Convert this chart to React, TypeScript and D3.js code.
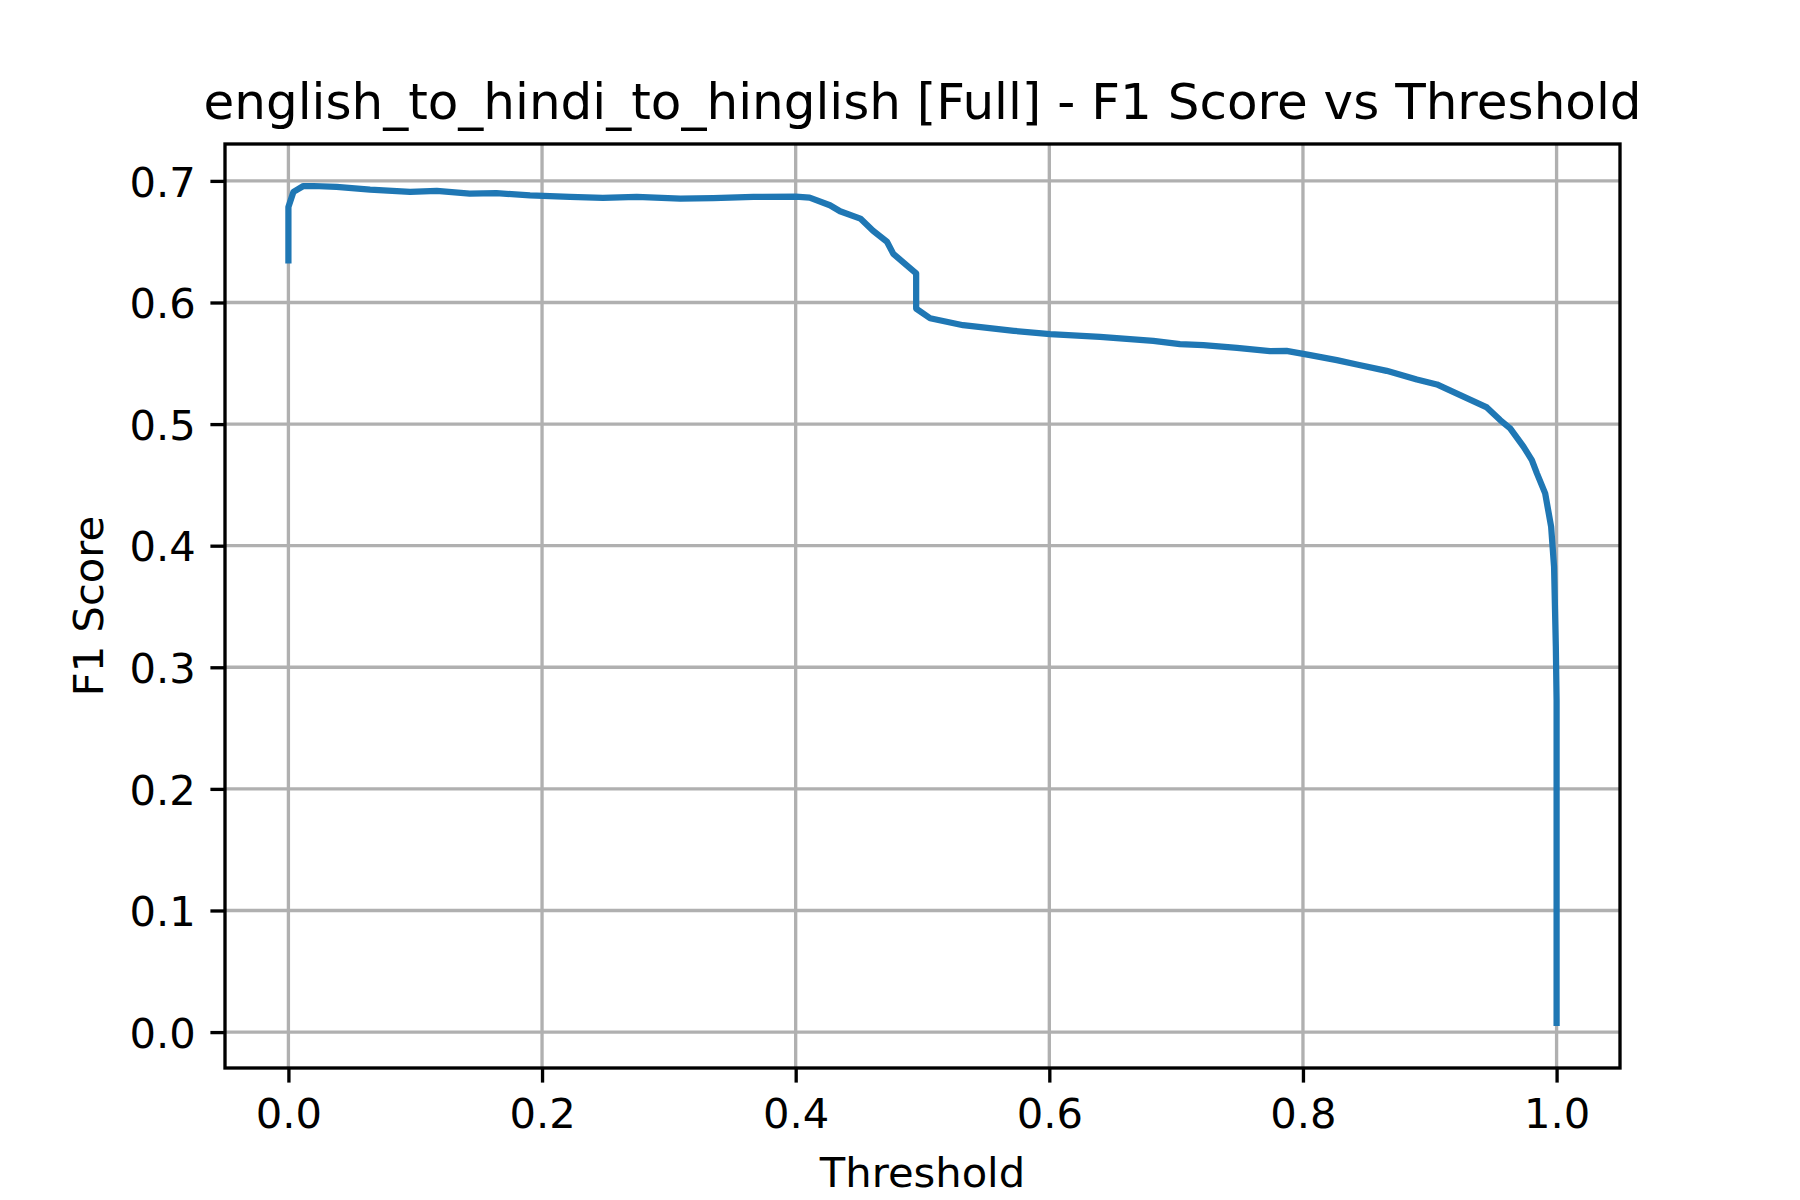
import { useEffect, useRef } from "react";
import * as d3 from "d3";

// values
const thresholds: number[] = [
  0, 0, 0.004, 0.0118, 0.0197, 0.038, 0.0644, 0.096, 0.117, 0.143, 0.164,
  0.1905, 0.222, 0.248, 0.2747, 0.309, 0.335, 0.3667, 0.4, 0.411, 0.427, 0.435,
  0.451, 0.461, 0.472, 0.477, 0.4876, 0.495, 0.495, 0.506, 0.532, 0.572, 0.6006,
  0.64, 0.682, 0.703, 0.7215, 0.748, 0.774, 0.787, 0.8057, 0.8267, 0.8425,
  0.866, 0.8898, 0.9056, 0.924, 0.945, 0.9555, 0.9634, 0.974, 0.9805, 0.9845,
  0.991, 0.9957, 0.998, 0.9994, 1.0, 1.0,
];
const f1Scores: number[] = [
  0.632, 0.6786, 0.691, 0.6958, 0.6958, 0.695, 0.6928, 0.6909, 0.6917, 0.6896,
  0.69, 0.688, 0.6868, 0.686, 0.6868, 0.6855, 0.6858, 0.6868, 0.687, 0.6863,
  0.68, 0.675, 0.669, 0.659, 0.65, 0.64, 0.6306, 0.624, 0.595, 0.587, 0.5813,
  0.5767, 0.574, 0.5717, 0.5685, 0.5657, 0.5649, 0.5627, 0.56, 0.5602, 0.5567,
  0.5526, 0.549, 0.5438, 0.5367, 0.5326, 0.5238, 0.5137, 0.5033, 0.4965,
  0.4813, 0.4704, 0.4595, 0.443, 0.4156, 0.3827, 0.317, 0.273, 0.005,
];
const xTicks = [0, 0.2, 0.4, 0.6, 0.8, 1.0];
const yTicks = [0, 0.1, 0.2, 0.3, 0.4, 0.5, 0.6, 0.7];

const TITLE = "english_to_hindi_to_hinglish [Full] - F1 Score vs Threshold";
const FONT = "'DejaVu Sans', sans-serif";
const W = 1800;
const H = 1200;

export default function App() {
  const svgRef = useRef<SVGSVGElement>(null);

  useEffect(() => {
    if (!svgRef.current) return;
    const svg = d3.select(svgRef.current);
    svg.selectAll("*").remove();

    const margin = { left: 225, right: 180, top: 144, bottom: 132 };
    const innerW = W - margin.left - margin.right;
    const innerH = H - margin.top - margin.bottom;

    const xMin = d3.min(thresholds)!;
    const xMax = d3.max(thresholds)!;
    const yMin = d3.min(f1Scores)!;
    const yMax = d3.max(f1Scores)!;
    const xPad = (xMax - xMin) * 0.05;
    const yPad = (yMax - yMin) * 0.05;

    const x = d3
      .scaleLinear()
      .domain([xMin - xPad, xMax + xPad])
      .range([0, innerW]);
    const y = d3
      .scaleLinear()
      .domain([yMin - yPad, yMax + yPad])
      .range([innerH, 0]);

    svg.append("rect").attr("width", W).attr("height", H).attr("fill", "#fff");

    const g = svg
      .append("g")
      .attr("transform", `translate(${margin.left},${margin.top})`);

    // grid
    g.append("g")
      .selectAll("line")
      .data(xTicks)
      .enter()
      .append("line")
      .attr("x1", (d) => x(d))
      .attr("x2", (d) => x(d))
      .attr("y1", 0)
      .attr("y2", innerH)
      .attr("stroke", "#b0b0b0")
      .attr("stroke-width", 3.33);
    g.append("g")
      .selectAll("line")
      .data(yTicks)
      .enter()
      .append("line")
      .attr("x1", 0)
      .attr("x2", innerW)
      .attr("y1", (d) => y(d))
      .attr("y2", (d) => y(d))
      .attr("stroke", "#b0b0b0")
      .attr("stroke-width", 3.33);

    // curve
    const points = thresholds.map((t, i) => [t, f1Scores[i]] as [number, number]);
    const line = d3
      .line<[number, number]>()
      .x((d) => x(d[0]))
      .y((d) => y(d[1]));
    g.append("path")
      .datum(points)
      .attr("d", line)
      .attr("fill", "none")
      .attr("stroke", "#1f77b4")
      .attr("stroke-width", 6.25)
      .attr("stroke-linejoin", "round")
      .attr("stroke-linecap", "butt");

    // axes
    const xAxis = g
      .append("g")
      .attr("transform", `translate(0,${innerH})`)
      .call(
        d3
          .axisBottom(x)
          .tickValues(xTicks)
          .tickSize(14.6)
          .tickPadding(14.6)
          .tickFormat((d) => d3.format(".1f")(Number(d))),
      );
    xAxis.select(".domain").remove();
    xAxis.selectAll(".tick line").attr("stroke", "#000").attr("stroke-width", 3.33);
    xAxis
      .selectAll(".tick text")
      .attr("fill", "#000")
      .attr("font-size", "41.67px")
      .attr("font-family", FONT)
      .attr("dy", null)
      .attr("y", 14.6 + 14.6 + 31.2);

    const yAxis = g.append("g").call(
      d3
        .axisLeft(y)
        .tickValues(yTicks)
        .tickSize(14.6)
        .tickPadding(14.6)
        .tickFormat((d) => d3.format(".1f")(Number(d))),
    );
    yAxis.select(".domain").remove();
    yAxis.selectAll(".tick line").attr("stroke", "#000").attr("stroke-width", 3.33);
    yAxis
      .selectAll(".tick text")
      .attr("fill", "#000")
      .attr("font-size", "41.67px")
      .attr("font-family", FONT)
      .attr("dy", null)
      .attr("y", 15.2);

    // spines
    g.append("rect")
      .attr("width", innerW)
      .attr("height", innerH)
      .attr("fill", "none")
      .attr("stroke", "#000")
      .attr("stroke-width", 3.33)
      .attr("stroke-linejoin", "miter");

    // labels
    svg
      .append("text")
      .attr("x", margin.left + innerW / 2)
      .attr("y", 119)
      .attr("text-anchor", "middle")
      .attr("font-size", "50px")
      .attr("font-family", FONT)
      .attr("fill", "#000")
      .text(TITLE);

    svg
      .append("text")
      .attr("x", margin.left + innerW / 2)
      .attr("y", 1187)
      .attr("text-anchor", "middle")
      .attr("font-size", "41.67px")
      .attr("font-family", FONT)
      .attr("fill", "#000")
      .text("Threshold");

    svg
      .append("text")
      .attr("transform", `translate(103,${margin.top + innerH / 2}) rotate(-90)`)
      .attr("text-anchor", "middle")
      .attr("font-size", "41.67px")
      .attr("font-family", FONT)
      .attr("fill", "#000")
      .text("F1 Score");
  }, []);

  return (
    <svg
      ref={svgRef}
      width={W}
      height={H}
      style={{ position: "absolute", left: 0, top: 0, display: "block" }}
    />
  );
}
